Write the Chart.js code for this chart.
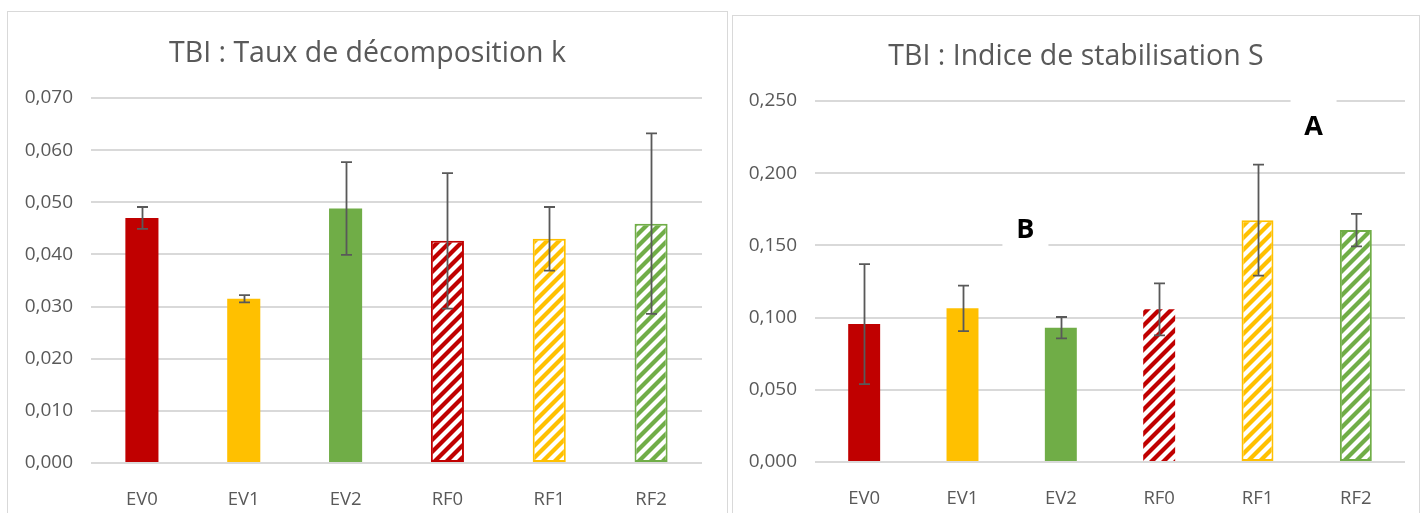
<!DOCTYPE html>
<html>
<head>
<meta charset="utf-8">
<script src="https://cdn.jsdelivr.net/npm/chart.js@4.4.1/dist/chart.umd.min.js"></script>
<style>
  html, body { margin: 0; padding: 0; background: #fff; }
  body { width: 1421px; height: 513px; position: relative; overflow: hidden; }
  .panel { position: absolute; border: 1px solid #D9D9D9; box-sizing: border-box; background: #fff; }
  #p1 { left: 7px; top: 11px; width: 721px; height: 520px; }
  #p2 { left: 732px; top: 15px; width: 688px; height: 520px; }
  canvas { position: absolute; left: 0; top: 0; }
</style>
</head>
<body>
<div class="panel" id="p1"><canvas id="c1" width="719" height="501"></canvas></div>
<div class="panel" id="p2"><canvas id="c2" width="686" height="497"></canvas></div>
<script>
// ---- data ----
const categories = ['EV0', 'EV1', 'EV2', 'RF0', 'RF1', 'RF2'];
const kValues = [0.0470, 0.0315, 0.0488, 0.0426, 0.0430, 0.0459];
const kErrors = [0.0021, 0.0007, 0.0089, 0.0130, 0.0061, 0.0173];
const sValues = [0.0955, 0.1064, 0.0930, 0.1057, 0.1675, 0.1606];
const sErrors = [0.0416, 0.0158, 0.0074, 0.0180, 0.0385, 0.0113];
const kTicks = { min: 0, max: 0.07, step: 0.01 };
const sTicks = { min: 0, max: 0.25, step: 0.05 };
const titleK = 'TBI : Taux de décomposition k';
const titleS = 'TBI : Indice de stabilisation S';
const letters = [
  { text: 'B', cat: 1.64, value: 0.1605 },
  { text: 'A', cat: 4.57, value: 0.2319 }
];

// ---- styles ----
const RED = '#C00000', YELLOW = '#FFC000', GREEN = '#70AD47';
const TXT = '#595959', GRID = '#D9D9D9';
const FONT = "'Open Sans', 'Noto Sans', sans-serif";

function hatch(color) {
  const s = 12;
  const c = document.createElement('canvas');
  c.width = s; c.height = s;
  const g = c.getContext('2d');
  g.fillStyle = '#fff';
  g.fillRect(0, 0, s, s);
  g.strokeStyle = color;
  g.lineWidth = 4.2;
  g.lineCap = 'square';
  for (const k of [0, s, 2 * s]) {
    g.beginPath();
    g.moveTo(-2, k + 2);
    g.lineTo(k + 2, -2);
    g.stroke();
  }
  return document.createElement('canvas').getContext('2d').createPattern(c, 'repeat');
}

const fills = [RED, YELLOW, GREEN, hatch(RED), hatch(YELLOW), hatch(GREEN)];
const borders = [RED, YELLOW, GREEN, RED, YELLOW, GREEN];

const fmt = v => v.toFixed(3).replace('.', ',');

const errorBars = {
  id: 'errorBars',
  afterDatasetsDraw(chart, args, opts) {
    const ctx = chart.ctx;
    const meta = chart.getDatasetMeta(0);
    const y = chart.scales.y;
    const errs = opts.errors;
    ctx.save();
    ctx.strokeStyle = '#595959';
    ctx.lineWidth = 1.8;
    meta.data.forEach((bar, i) => {
      const v = chart.data.datasets[0].data[i];
      const top = y.getPixelForValue(v + errs[i]);
      const bot = y.getPixelForValue(v - errs[i]);
      const x = Math.round(bar.x) + 0.5;
      ctx.beginPath();
      ctx.moveTo(x, top); ctx.lineTo(x, bot);
      ctx.moveTo(x - 5.5, top); ctx.lineTo(x + 5.5, top);
      ctx.moveTo(x - 5.5, bot); ctx.lineTo(x + 5.5, bot);
      ctx.stroke();
    });
    ctx.restore();
  }
};

const drawTitle = {
  id: 'drawTitle',
  afterDraw(chart, args, opts) {
    const ctx = chart.ctx;
    ctx.save();
    ctx.fillStyle = TXT;
    ctx.font = `28.5px ${FONT}`;
    ctx.textAlign = 'center';
    ctx.textBaseline = 'middle';
    ctx.fillText(opts.text, chart.width / 2, opts.y);
    ctx.restore();
  }
};

const letterMarks = {
  id: 'letterMarks',
  beforeDatasetsDraw(chart, args, opts) {
    if (!opts.items) return;
    const ctx = chart.ctx;
    const x = chart.scales.x, y = chart.scales.y;
    ctx.save();
    ctx.fillStyle = '#fff';
    opts.items.forEach(it => {
      const px = x.getPixelForValue(0) + (x.getPixelForValue(1) - x.getPixelForValue(0)) * it.cat;
      const py = y.getPixelForValue(it.value);
      ctx.fillRect(px - 23, py - 28, 46, 46);
    });
    ctx.restore();
  },
  afterDatasetsDraw(chart, args, opts) {
    if (!opts.items) return;
    const ctx = chart.ctx;
    const x = chart.scales.x, y = chart.scales.y;
    ctx.save();
    ctx.fillStyle = '#000';
    ctx.font = `bold 27px ${FONT}`;
    ctx.textAlign = 'center';
    ctx.textBaseline = 'middle';
    opts.items.forEach(it => {
      const px = x.getPixelForValue(0) + (x.getPixelForValue(1) - x.getPixelForValue(0)) * it.cat;
      const py = y.getPixelForValue(it.value);
      ctx.fillText(it.text, px, py);
    });
    ctx.restore();
  }
};

function makeChart(id, values, errors, ticks, title, cfg) {
  return new Chart(document.getElementById(id), {
    type: 'bar',
    data: {
      labels: categories,
      datasets: [{
        data: values,
        backgroundColor: fills,
        borderColor: borders,
        borderWidth: cfg.borderWidths,
        borderSkipped: false,
        barPercentage: 0.325,
        categoryPercentage: 1
      }]
    },
    options: {
      responsive: false,
      devicePixelRatio: 1,
      animation: false,
      layout: { padding: { left: 0, right: cfg.right, top: cfg.top, bottom: 0 } },
      plugins: {
        legend: { display: false },
        title: { display: false },
        tooltip: { enabled: false },
        errorBars: { errors },
        drawTitle: { text: title, y: cfg.titleY },
        letterMarks: { items: cfg.letters }
      },
      scales: {
        x: {
          grid: { display: false },
          border: { display: false },
          ticks: { color: TXT, font: { family: FONT, size: 18.5 }, padding: 18 },
          afterFit: s => { s.height = cfg.bottom; }
        },
        y: {
          min: ticks.min, max: ticks.max,
          grid: { color: GRID, lineWidth: 2, drawTicks: false },
          border: { display: false },
          ticks: {
            stepSize: ticks.step, color: TXT, padding: 18,
            font: { family: FONT, size: 19 },
            callback: v => fmt(v)
          },
          afterFit: s => { s.width = cfg.left; }
        }
      }
    },
    plugins: [errorBars, drawTitle, letterMarks]
  });
}

makeChart('c1', kValues, kErrors, kTicks, titleK, {
  left: 83, right: 25, top: 86, bottom: 50, titleY: 42,
  borderWidths: [0, 0, 0, 2, 2, 2], letters: null
});
makeChart('c2', sValues, sErrors, sTicks, titleS, {
  left: 82, right: 14, top: 85, bottom: 51, titleY: 41,
  borderWidths: [0, 0, 0, 0, 2, 2], letters
});
</script>
</body>
</html>
